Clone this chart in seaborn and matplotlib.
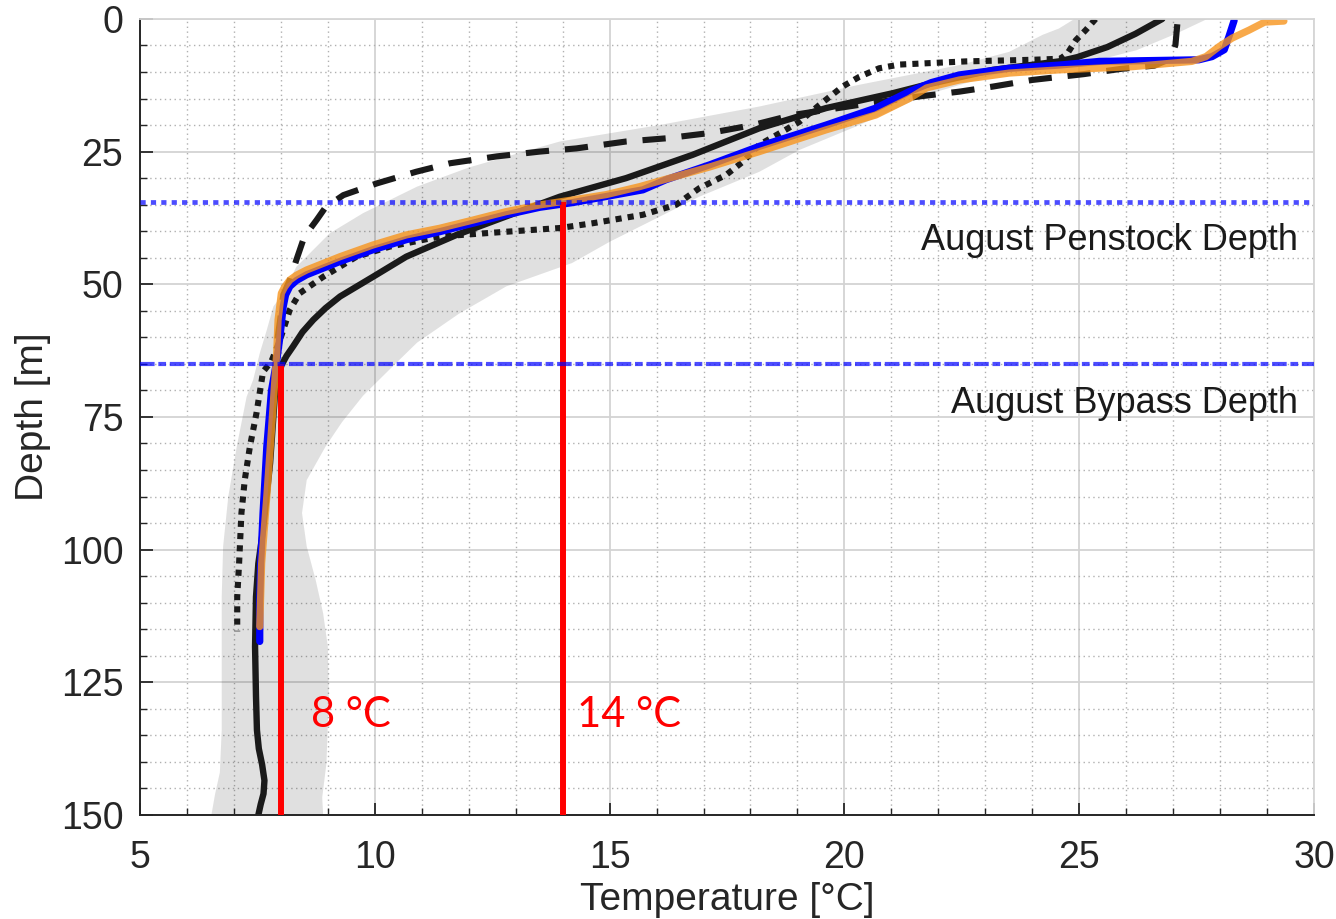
import numpy as np
import matplotlib
matplotlib.use("Agg")
import matplotlib.pyplot as plt
import seaborn as sns
from matplotlib.ticker import MultipleLocator

# ---------------- data ----------------
# black solid profile
solid_depth = [0, 2.8, 5.3, 7.2, 8.0, 9.6, 12.4, 14.0, 16.8, 20.6, 25.6, 30.0, 33.5, 37.2, 40.7,
               44.8, 48.6, 52.3, 54.5, 56.7, 59.0, 61.7, 63.5, 65.3, 68.0, 71.2, 83.7, 96.3,
               102.6, 108.9, 118.3, 127.7, 134, 137.5, 140.5, 143.5, 146, 148, 150]
solid_temp = [26.77, 26.2, 25.6, 24.96, 24.57, 23.16, 21.74, 21.03, 19.61, 18.19, 16.77, 15.35,
              13.94, 12.80, 11.74, 10.67, 9.96, 9.26, 8.95, 8.69, 8.46, 8.26, 8.12, 8.01, 7.93,
              7.87, 7.77, 7.62, 7.52, 7.47, 7.45, 7.47, 7.49, 7.53, 7.60, 7.65, 7.63, 7.57, 7.52]

# black dashed profile
dashed_depth = [1.0, 4.9, 7.5, 8.8, 9.4, 10.4, 11.5, 12.75, 13.7, 14.6, 15.9, 18.1, 20.0, 21.5,
                22.5, 23.1, 24.4, 25.0, 25.9, 27.2, 28.8, 31.0, 33.2, 35.5, 37.9, 41.0, 45.4,
                49.0, 52.0, 57.0, 62.0]
dashed_temp = [27.09, 27.05, 26.95, 26.6, 25.9, 25.1, 24.0, 23.16, 22.45, 21.6, 20.53, 18.9,
               18.05, 17.13, 16.2, 15.35, 14.29, 13.51, 12.6, 11.6, 10.88, 10.04, 9.33, 8.95,
               8.76, 8.5, 8.33, 8.2, 8.05, 7.98, 7.9]

# black dotted profile
dotted_depth = [0, 2.1, 4.0, 6.5, 7.5, 7.7, 8.0, 8.6, 9.3, 10.9, 12.75, 16.2, 19.4, 21.9, 23.7,
                26.9, 29.4, 31.9, 35.0, 36.9, 38.5, 39.4, 40.1, 41.0, 42.9, 44.8, 48.6, 51.7,
                54.8, 60.5, 64.5, 66.5, 74.3, 80.6, 86.9, 93.1, 102.6, 108.9, 115.4]
dotted_temp = [25.35, 25.14, 24.93, 24.75, 24.6, 24.0, 22.59, 21.17, 20.74, 20.32, 19.96, 19.47,
               19.04, 18.55, 18.19, 17.84, 17.48, 16.91, 16.42, 15.71, 14.64, 13.94, 12.80,
               11.38, 10.32, 9.61, 8.90, 8.40, 8.19, 7.98, 7.80, 7.62, 7.48, 7.34, 7.23, 7.16,
               7.11, 7.07, 7.07]

# blue profile
blue_depth = [0.3, 3.3, 5.8, 7.1, 7.7, 8.0, 8.7, 9.3, 10.55, 12.0, 13.7, 16.8, 20.0, 24.0, 27.5,
              30.3, 32.2, 34.6, 35.5, 36.9, 38.5, 40.1, 41.6, 43.5, 45.7, 48.2, 49.3, 50.4,
              52.0, 54.2, 59.9, 64.5, 70, 80.6, 93.1, 102.6, 110, 117.3]
blue_temp = [28.3, 28.19, 28.09, 27.83, 27.55, 25.43, 24.57, 23.51, 22.45, 21.85, 21.38, 20.67,
             19.61, 18.19, 17.13, 16.2, 15.71, 14.22, 13.51, 12.80, 12.09, 11.38, 10.67, 9.96,
             9.26, 8.55, 8.33, 8.19, 8.1, 8.05, 7.98, 7.91, 7.80, 7.70, 7.62, 7.57, 7.55, 7.55]

# orange profile
orange_depth = [0.4, 0.6, 2.1, 3.6, 5.2, 7.1, 8.0, 9.0, 9.6, 10.2, 11.5, 13.0, 15.0, 18.1, 20.9,
                25.0, 27.9, 30.2, 31.6, 33.1, 34.1, 35.05, 36.3, 37.9, 39.45, 40.7, 42.6, 44.8,
                47.3, 48.3, 49.2, 50.5, 51.7, 56.7, 63.0, 77.4, 90, 102.6, 114.5]
orange_temp = [29.36, 28.95, 28.62, 28.26, 27.98, 27.7, 27.4, 26.13, 24.57, 23.51, 22.45, 21.75,
               21.38, 20.67, 19.61, 18.19, 17.13, 16.2, 15.64, 14.93, 14.22, 13.51, 12.80,
               12.09, 11.38, 10.67, 9.96, 9.26, 8.55, 8.33, 8.19, 8.08, 8.01, 7.94, 7.91, 7.80,
               7.70, 7.59, 7.55]

# grey envelope: cold (left) edge and warm (right) edge
band_left_depth = [0, 1.8, 3.0, 6.2, 8.7, 12.4, 16.5, 20.0, 23.1, 24.7, 28.0, 31.6, 36.6, 40.4,
                   46.7, 51.7, 54.2, 58.6, 63.0, 68.0, 71.2, 80.6, 90, 99.4, 108.9, 121.4, 134,
                   142, 146, 150]
band_left_temp = [24.9, 24.57, 24.22, 23.51, 22.45, 20.32, 18.19, 16.06, 13.94, 13.3, 12.0, 10.9,
                  9.75, 9.04, 8.33, 8.05, 7.84, 7.7, 7.55, 7.41, 7.27, 7.06, 6.88, 6.77, 6.74,
                  6.74, 6.74, 6.70, 6.6, 6.52]
band_right_depth = [0, 2.8, 5.9, 7.8, 8.7, 10.5, 14.3, 20.0, 24.7, 28.8, 33.5, 38.0, 42.0, 46.0,
                    50.4, 55.5, 61.0, 66.0, 71.0, 76.0, 80.6, 86.9, 93.1, 99.4, 105.7, 112,
                    118.3, 127.7, 140.3, 146.7, 150]
band_right_temp = [27.73, 27.06, 26.22, 25.38, 24.6, 23.2, 21.74, 20.32, 19.04, 18.19, 16.91,
                   15.9, 15.0, 14.2, 12.8, 11.8, 10.9, 10.32, 9.75, 9.3, 8.95, 8.55, 8.45, 8.55,
                   8.74, 8.9, 9.0, 9.02, 8.97, 8.88, 8.9]

# reference depths and temperatures
intake_depths = [34.5, 65.0]
intake_labels = ["August Penstock Depth", "August Bypass Depth"]
threshold_temps = [8, 14]
threshold_tops = [65.0, 34.5]
threshold_labels = ["8 \u00b0C", "14 \u00b0C"]

x_ticks = [5, 10, 15, 20, 25, 30]
y_ticks = [0, 25, 50, 75, 100, 125, 150]

# ---------------- figure ----------------
sns.set_theme(style="white")
plt.rcParams['font.family'] = ['Liberation Sans', 'DejaVu Sans']

fig = plt.figure(figsize=(13.36, 9.19), dpi=100)
ax = fig.add_axes([0.1048, 0.1132, 0.8787, 0.8662])

ax.set_xlim(5, 30)
ax.set_ylim(150, 0)
ax.set_xticks(x_ticks)
ax.set_yticks(y_ticks)
ax.xaxis.set_minor_locator(MultipleLocator(1))
ax.yaxis.set_minor_locator(MultipleLocator(5))

ax.set_axisbelow(True)
ax.grid(which='major', color='#d3d3d3', lw=1.3, ls='-')
ax.grid(which='minor', color='#b0b0b0', lw=1.0, ls=(0, (1, 2.5)))

# envelope
ax.fill(np.concatenate([band_left_temp, band_right_temp[::-1]]),
        np.concatenate([band_left_depth, band_right_depth[::-1]]),
        color='k', alpha=0.135, lw=0, zorder=1.5)

common = dict(orient='y', sort=False, estimator=None, ax=ax)
sns.lineplot(x=dotted_temp, y=dotted_depth, color='k', linewidth=4.4,
             linestyle=(0, (1.0, 1.0)), **common)
sns.lineplot(x=dashed_temp, y=dashed_depth, color='k', linewidth=4.4,
             linestyle=(0, (3.8, 2.6)), **common)
sns.lineplot(x=solid_temp, y=solid_depth, color='k', linewidth=4.6, **common)
sns.lineplot(x=blue_temp, y=blue_depth, color='#0000ff', linewidth=5.2, **common)
sns.lineplot(x=orange_temp, y=orange_depth, color='#f7941d', alpha=0.8, linewidth=5.2, **common)

# thresholds
ax.vlines(threshold_temps, threshold_tops, 150, color='#ff0000', lw=4.3, zorder=3)
for t, lab in zip(threshold_temps, threshold_labels):
    ax.text(t + 0.65 if t < 10 else t + 0.3, 133.4, lab, color='#ff0000', fontsize=30,
            family=['Lato', 'DejaVu Sans'], ha='left', va='baseline')

# intake depths
ax.axhline(intake_depths[0], color='#0000ff', alpha=0.7, lw=3.4, ls=(0, (1.1, 1.1)), zorder=4)
ax.axhline(intake_depths[1], color='#0000ff', alpha=0.7, lw=3.0,
           ls=(0, (3.5, 0.9, 1.85, 0.9)), zorder=4)
ax.text(29.65, 43.5, intake_labels[0], fontsize=26, ha='right', va='baseline', color='k')
ax.text(29.65, 74.2, intake_labels[1], fontsize=26, ha='right', va='baseline', color='k')

# axes styling
for side in ['left', 'bottom']:
    ax.spines[side].set_color('#262626')
    ax.spines[side].set_linewidth(1.4)
for side in ['top', 'right']:
    ax.spines[side].set_color('#d6d6d6')
    ax.spines[side].set_linewidth(1.3)

ax.tick_params(which='both', direction='in', top=False, right=False, left=True, bottom=True,
               colors='#262626')
ax.tick_params(which='major', length=9, width=1.3, labelsize=27)
ax.tick_params(which='minor', length=5, width=1.0)
ax.tick_params(axis='x', which='major', pad=18)
ax.tick_params(axis='y', which='major', pad=12)

ax.set_xlabel("Temperature [\u00b0C]", fontsize=28, color='#262626', labelpad=4)
ax.set_ylabel("Depth [m]", fontsize=28, color='#262626', labelpad=7)

fig.savefig("out.png", dpi=100)
